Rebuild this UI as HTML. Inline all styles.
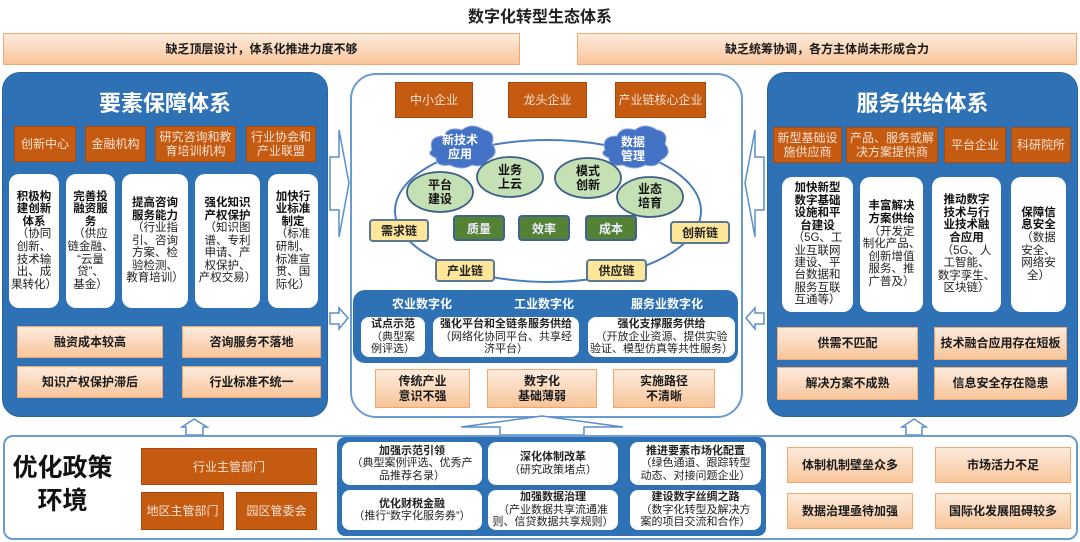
<!DOCTYPE html>
<html><head><meta charset="utf-8"><style>
*{margin:0;padding:0;box-sizing:border-box}
body{width:1080px;height:542px;background:#fff;position:relative;overflow:hidden;font-family:"Liberation Sans","Noto Sans CJK SC",sans-serif}
.a{position:absolute;display:flex;align-items:center;justify-content:center;text-align:center}
.or{background:#c55a11;color:#f6e2d4;font-size:12px;line-height:14px;border:1px solid #a9480c}
.pe{background:linear-gradient(#fdebdd,#f8c59a);border:1px solid #f4a870;color:#1a1a1a;font-weight:bold;font-size:12px;line-height:15px}
.wc{background:#fff;border-radius:10px;color:#222;font-size:11.5px;line-height:12.6px;flex-direction:column;white-space:nowrap}
.wc b{color:#111}
.bp{background:#2e72b5;border-radius:18px;border:1px solid #2a64a0}
.ye{background:#ffe699;border:2px solid #5a7896;border-radius:4px;font-weight:bold;font-size:12px;color:#222}
.gr{background:#548235;border:2px solid #41628e;border-radius:4px;font-weight:bold;font-size:12px;color:#eef}
.wb{background:#fff;border-radius:8px;color:#222;font-size:11px;line-height:12.5px;flex-direction:column;white-space:nowrap}
</style></head><body>
<div class="a" style="left:380px;top:2px;width:320px;height:26px;font-size:16px;font-weight:bold;color:#222">数字化转型生态体系</div>
<div class="a pe" style="left:3px;top:33px;width:517px;height:32px">缺乏顶层设计，体系化推进力度不够</div>
<div class="a pe" style="left:577px;top:33px;width:500px;height:32px">缺乏统筹协调，各方主体尚未形成合力</div>

<!-- left panel -->
<div class="bp" style="position:absolute;left:2px;top:72px;width:326px;height:345px"></div>
<div class="a" style="left:2px;top:88px;width:326px;height:28px;color:#fff;font-size:22px;font-weight:bold">要素保障体系</div>
<div class="a or" style="left:14px;top:126px;width:62px;height:36px">创新中心</div>
<div class="a or" style="left:85px;top:126px;width:61px;height:36px">金融机构</div>
<div class="a or" style="left:155px;top:126px;width:81px;height:36px">研究咨询和教<br>育培训机构</div>
<div class="a or" style="left:246px;top:126px;width:70px;height:36px">行业协会和<br>产业联盟</div>
<div class="a wc" style="left:9px;top:174px;width:50px;height:134px"><div><b>积极构<br>建创新<br>体系</b><br>（协同<br>创新、<br>技术输<br>出、成<br>果转化）</div></div>
<div class="a wc" style="left:66px;top:174px;width:49px;height:134px"><div><b>完善投<br>融资服<br>务</b><br>（供应<br>链金融、<br>“云量<br>贷”、<br>基金）</div></div>
<div class="a wc" style="left:122px;top:174px;width:66px;height:134px"><div><b>提高咨询<br>服务能力</b><br>（行业指<br>引、咨询<br>方案、检<br>验检测、<br>教育培训）</div></div>
<div class="a wc" style="left:195px;top:174px;width:65px;height:134px"><div><b>强化知识<br>产权保护</b><br>（知识图<br>谱、专利<br>申请、产<br>权保护、<br>产权交易）</div></div>
<div class="a wc" style="left:268px;top:174px;width:50px;height:134px"><div><b>加快行<br>业标准<br>制定</b><br>（标准<br>研制、<br>标准宣<br>贯、国<br>际化）</div></div>
<div class="a pe" style="left:17px;top:326px;width:146px;height:32px">融资成本较高</div>
<div class="a pe" style="left:182px;top:326px;width:139px;height:32px">咨询服务不落地</div>
<div class="a pe" style="left:17px;top:366px;width:146px;height:32px">知识产权保护滞后</div>
<div class="a pe" style="left:182px;top:366px;width:139px;height:32px">行业标准不统一</div>

<!-- right panel -->
<div class="bp" style="position:absolute;left:767px;top:72px;width:311px;height:345px"></div>
<div class="a" style="left:767px;top:88px;width:311px;height:28px;color:#fff;font-size:22px;font-weight:bold">服务供给体系</div>
<div class="a or" style="left:773px;top:127px;width:69px;height:36px">新型基础设<br>施供应商</div>
<div class="a or" style="left:846px;top:127px;width:92px;height:36px">产品、服务或解<br>决方案提供商</div>
<div class="a or" style="left:944px;top:127px;width:62px;height:36px">平台企业</div>
<div class="a or" style="left:1011px;top:127px;width:60px;height:36px">科研院所</div>
<div class="a wc" style="left:782px;top:177px;width:71px;height:135px;line-height:12.4px"><div><b>加快新型<br>数字基础<br>设施和平<br>台建设</b><br>（5G、工<br>业互联网<br>建设、平<br>台数据和<br>服务互联<br>互通等）</div></div>
<div class="a wc" style="left:860px;top:177px;width:63px;height:135px"><div><b>丰富解决<br>方案供给</b><br>（开发定<br>制化产品、<br>创新增值<br>服务、推<br>广普及）</div></div>
<div class="a wc" style="left:932px;top:177px;width:69px;height:135px"><div><b>推动数字<br>技术与行<br>业技术融<br>合应用</b><br>（5G、人<br>工智能、<br>数字孪生、<br>区块链）</div></div>
<div class="a wc" style="left:1011px;top:177px;width:55px;height:135px"><div><b>保障信<br>息安全</b><br>（数据<br>安全、<br>网络安<br>全）</div></div>
<div class="a pe" style="left:777px;top:327px;width:141px;height:33px">供需不匹配</div>
<div class="a pe" style="left:934px;top:327px;width:133px;height:33px">技术融合应用存在短板</div>
<div class="a pe" style="left:777px;top:367px;width:141px;height:33px">解决方案不成熟</div>
<div class="a pe" style="left:934px;top:367px;width:133px;height:33px">信息安全存在隐患</div>

<!-- center panel -->
<div style="position:absolute;left:350px;top:73px;width:393px;height:345px;border:2px solid #6a9bd1;border-radius:26px;background:#fff"></div>
<svg style="position:absolute;left:0;top:0" width="1080" height="542">
<g fill="#fff" stroke="#5b8fcb" stroke-width="1.5">
<polygon points="330,157 339,157 339,130 349,183 339,237 339,210 330,210"/>
<polygon points="330,313 339,313 339,308 348,318 339,329 339,324 330,324"/>
<polygon points="764,157 755,157 755,130 745,183 755,237 755,210 764,210"/>
<polygon points="764,313 755,313 755,308 746,318 755,329 755,324 764,324"/>
<polygon points="186,435 186,427 182,427 194,419 207,427 203,427 203,435"/>
<polygon points="906,435 906,427 902,427 914,419 926,427 922,427 922,435"/>
<polygon points="500,435 500,427 461,427 542,416 623,427 584,427 584,435"/>
</g>
<ellipse cx="548" cy="211" rx="153" ry="71" fill="none" stroke="#4a7ebb" stroke-width="2"/>
<g fill="#4472c4" stroke="#8faadc" stroke-width="1">
<path d="M432,150 q-4,-14 12,-14 q4,-10 18,-6 q10,-8 22,0 q12,2 8,14 q8,10 -4,16 q-4,8 -16,5 q-10,6 -22,0 q-14,2 -14,-7 q-10,-4 -4,-8z"/>
<path d="M605,150 q-4,-14 12,-14 q4,-10 18,-6 q10,-8 22,0 q12,2 8,14 q8,10 -4,16 q-4,8 -16,5 q-10,6 -22,0 q-14,2 -14,-7 q-10,-4 -4,-8z"/>
</g>
<g fill="#c5e0b4" stroke="#3b5f86" stroke-width="1.8">
<ellipse cx="440" cy="192" rx="33" ry="20"/>
<ellipse cx="510" cy="177" rx="33" ry="20"/>
<ellipse cx="588" cy="178" rx="33" ry="20"/>
<ellipse cx="650" cy="197" rx="33" ry="20"/>
</g>
<g font-family="Liberation Sans,Noto Sans CJK SC,sans-serif" font-size="12" font-weight="bold" text-anchor="middle">
<g fill="#fff"><text x="460" y="144">新技术</text><text x="460" y="158">应用</text>
<text x="633" y="146">数据</text><text x="633" y="160">管理</text></g>
<g fill="#111"><text x="440" y="189">平台</text><text x="440" y="203">建设</text>
<text x="510" y="174">业务</text><text x="510" y="188">上云</text>
<text x="588" y="175">模式</text><text x="588" y="189">创新</text>
<text x="650" y="193">业态</text><text x="650" y="207">培育</text></g>
</g>
</svg>
<div class="a or" style="left:395px;top:82px;width:78px;height:36px">中小企业</div>
<div class="a or" style="left:508px;top:82px;width:79px;height:36px">龙头企业</div>
<div class="a or" style="left:615px;top:82px;width:91px;height:36px">产业链核心企业</div>
<div class="a ye" style="left:369px;top:219px;width:60px;height:23px">需求链</div>
<div class="a ye" style="left:670px;top:221px;width:60px;height:23px">创新链</div>
<div class="a ye" style="left:435px;top:259px;width:60px;height:23px">产业链</div>
<div class="a ye" style="left:586px;top:259px;width:61px;height:23px">供应链</div>
<div class="a gr" style="left:453px;top:215px;width:52px;height:26px">质量</div>
<div class="a gr" style="left:518px;top:215px;width:52px;height:26px">效率</div>
<div class="a gr" style="left:585px;top:215px;width:52px;height:26px">成本</div>
<div style="position:absolute;left:353px;top:290px;width:385px;height:73px;background:#2e72b5;border-radius:12px"></div>
<div class="a" style="left:382px;top:295px;width:80px;height:16px;color:#fff;font-weight:bold;font-size:12px">农业数字化</div>
<div class="a" style="left:504px;top:295px;width:80px;height:16px;color:#fff;font-weight:bold;font-size:12px">工业数字化</div>
<div class="a" style="left:617px;top:295px;width:100px;height:16px;color:#fff;font-weight:bold;font-size:12px">服务业数字化</div>
<div class="a wb" style="left:361px;top:317px;width:64px;height:40px"><div><b>试点示范</b><br>（典型案<br>例评选）</div></div>
<div class="a wb" style="left:433px;top:317px;width:146px;height:40px"><div><b>强化平台和全链条服务供给</b><br>（网络化协同平台、共享经<br>济平台）</div></div>
<div class="a wb" style="left:588px;top:317px;width:147px;height:40px"><div><b>强化支撑服务供给</b><br>（开放企业资源、提供实验<br>验证、模型仿真等共性服务）</div></div>
<div class="a pe" style="left:375px;top:369px;width:95px;height:39px">传统产业<br>意识不强</div>
<div class="a pe" style="left:487px;top:369px;width:110px;height:39px">数字化<br>基础薄弱</div>
<div class="a pe" style="left:613px;top:369px;width:102px;height:39px">实施路径<br>不清晰</div>

<!-- bottom -->
<div style="position:absolute;left:3px;top:435px;width:1075px;height:105px;border:2px solid #6a9bd1;border-radius:10px;background:#fff"></div>
<div class="a" style="left:10px;top:452px;width:105px;height:66px;font-size:25px;font-weight:bold;line-height:33px;color:#111">优化政策<br>环境</div>
<div class="a or" style="left:141px;top:448px;width:176px;height:37px">行业主管部门</div>
<div class="a or" style="left:141px;top:492px;width:83px;height:38px">地区主管部门</div>
<div class="a or" style="left:236px;top:492px;width:81px;height:38px">园区管委会</div>
<div style="position:absolute;left:337px;top:437px;width:429px;height:99px;background:#2e72b5;border-radius:8px"></div>
<div class="a wb" style="left:342px;top:442px;width:140px;height:43px"><div><b>加强示范引领</b><br>（典型案例评选、优秀产<br>品推荐名录）</div></div>
<div class="a wb" style="left:488px;top:442px;width:130px;height:43px"><div><b>深化体制改革</b><br>（研究政策堵点）</div></div>
<div class="a wb" style="left:630px;top:442px;width:131px;height:43px"><div><b>推进要素市场化配置</b><br>（绿色通道、跟踪转型<br>动态、对接问题企业）</div></div>
<div class="a wb" style="left:342px;top:490px;width:140px;height:40px"><div><b>优化财税金融</b><br>（推行“数字化服务券”）</div></div>
<div class="a wb" style="left:488px;top:490px;width:130px;height:40px"><div><b>加强数据治理</b><br>（产业数据共享流通准<br>则、信贷数据共享规则）</div></div>
<div class="a wb" style="left:630px;top:490px;width:131px;height:40px"><div><b>建设数字丝绸之路</b><br>（数字化转型及解决方<br>案的项目交流和合作）</div></div>
<div class="a pe" style="left:787px;top:447px;width:126px;height:36px">体制机制壁垒众多</div>
<div class="a pe" style="left:935px;top:447px;width:136px;height:36px">市场活力不足</div>
<div class="a pe" style="left:787px;top:493px;width:126px;height:36px">数据治理亟待加强</div>
<div class="a pe" style="left:935px;top:493px;width:136px;height:36px">国际化发展阻碍较多</div>
</body></html>
